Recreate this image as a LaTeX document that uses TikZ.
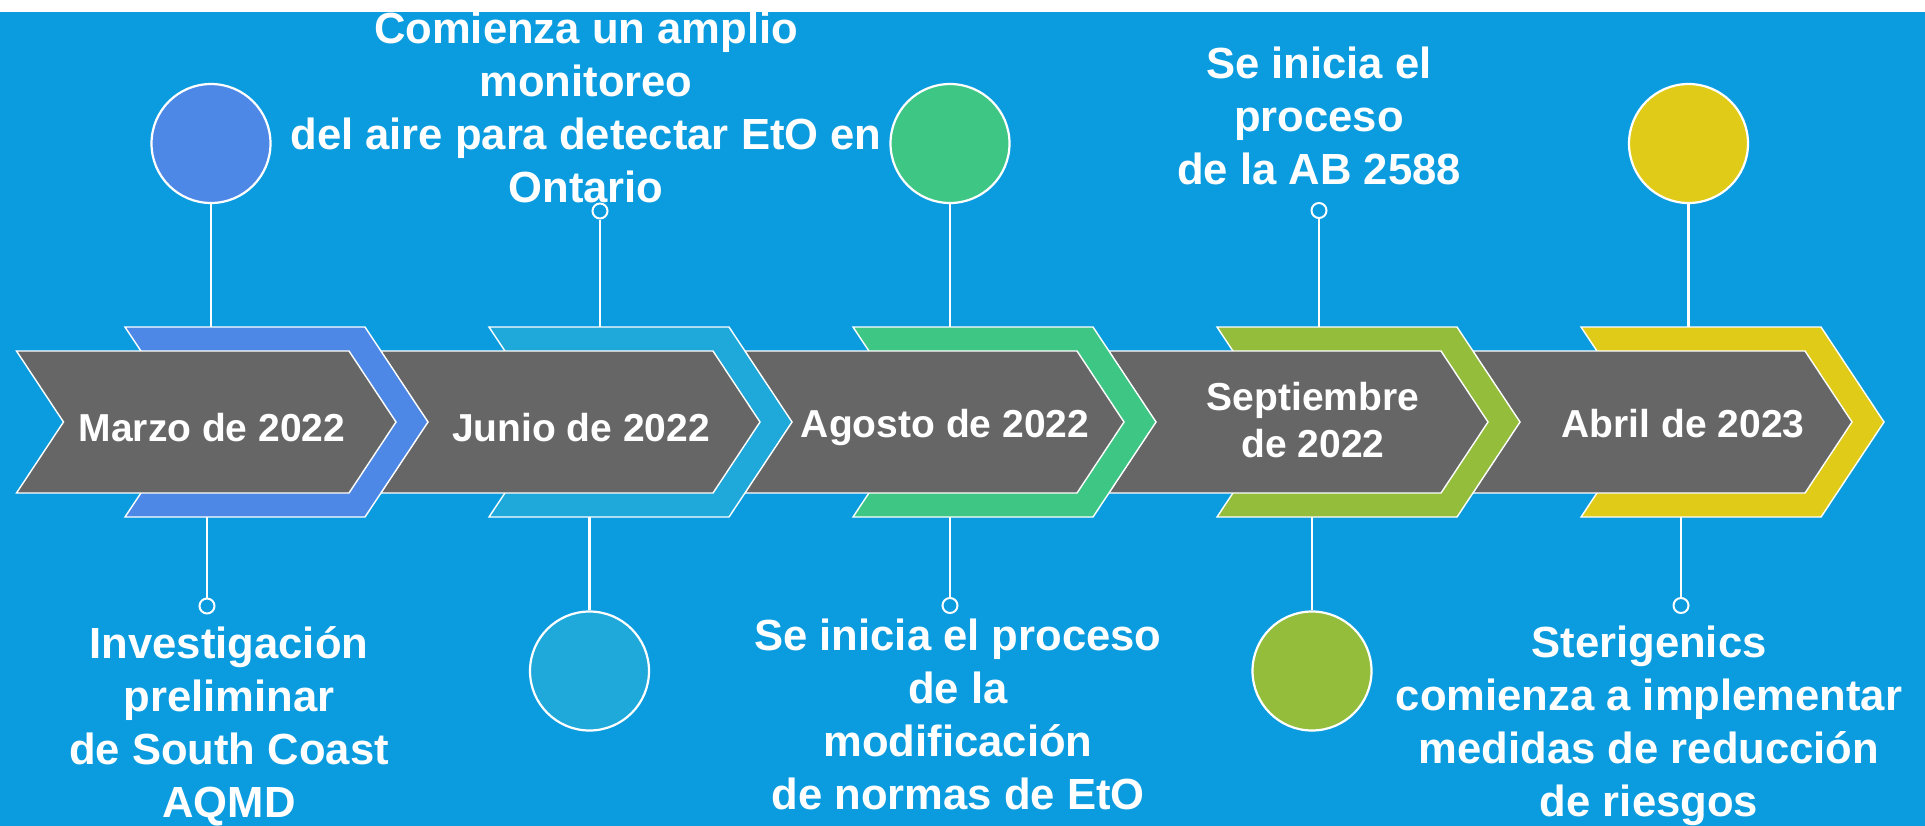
\documentclass[tikz,border=0pt]{standalone}
\usepackage{fontspec}
\setmainfont{Liberation Sans}
\usetikzlibrary{positioning}
\definecolor{TimeBg}{HTML}{0B9CDF}
\definecolor{TimeGray}{HTML}{666666}
\definecolor{TimeBlue}{HTML}{4E88E6}
\definecolor{TimeCyan}{HTML}{1FA9DA}
\definecolor{TimeGreen}{HTML}{3EC685}
\definecolor{TimeOlive}{HTML}{93BD3A}
\definecolor{TimeGold}{HTML}{E0CB18}
\tikzset{
  band/.style={draw=white,line width=0.7pt,line join=miter},
  bigdot/.style={circle,draw=white,line width=1.1pt,minimum size=59.5pt,inner sep=0pt},
  smalldot/.style={circle,draw=white,line width=1pt,minimum size=7.5pt,inner sep=0pt},
  stem/.style={draw=white,line width=1.35pt},
  datelabel/.style={anchor=base,text=white,align=center,inner sep=0pt,
    font=\fontsize{19.5}{23.4}\selectfont\bfseries},
  note/.style={anchor=base,text=white,align=center,inner sep=0pt,
    font=\fontsize{21.8}{26.35}\selectfont\bfseries}
}

\begin{document}
\begin{tikzpicture}[x=0.5pt,y=-0.5pt]
  \useasboundingbox (0,0) rectangle (1925,825);
  \fill[TimeBg] (-5,12) rectangle (1930,830);

  % chevrons, right to left so each gray piece tucks under the band before it
  \foreach \k/\col in {4/TimeGold,3/TimeOlive,2/TimeGreen,1/TimeCyan,0/TimeBlue}{
    \filldraw[band,fill=\col] ({125+364*\k},327) -- ++(240,0) -- ++(63,95)
      -- ++(-63,95) -- ++(-240,0) -- ++(63,-95) -- cycle;
    \filldraw[band,fill=TimeGray] ({16.5+364*\k},351) -- ++(332.5,0) -- ++(47,71)
      -- ++(-47,71) -- ++(-332.5,0) -- ++(47,-71) -- cycle;
  }

  % where the stems meet the coloured bands
  \foreach \name/\xn/\xs in {mar/211/207,jun/600/589.5,ago/950/950,sep/1319/1312,abr/1688.5/1681}{
    \coordinate (\name N) at (\xn,327);
    \coordinate (\name S) at (\xs,517);
  }

  % base anchor of a multi-line node sits on its last line
  \node[datelabel] (marLabel) at (212,441) {Marzo de 2022};
  \node[datelabel] (junLabel) at (581,441) {Junio de 2022};
  \node[datelabel] (agoLabel) at (945,437) {Agosto de 2022};
  \node[datelabel] (sepLabel) at (1313,457) {Septiembre\\de 2022};
  \node[datelabel] (abrLabel) at (1683,437) {Abril de 2023};

  % top row
  \node[bigdot,fill=TimeBlue] (marDot) at (211,143.5) {};
  \node[smalldot] (junDot) at (600,211) {};
  \node[bigdot,fill=TimeGreen] (agoDot) at (950,143.5) {};
  \node[smalldot] (sepDot) at (1319,210.5) {};
  \node[bigdot,fill=TimeGold] (abrDot) at (1688.5,143.5) {};

  % bottom row
  \node[smalldot] (marFoot) at (207,606) {};
  \node[bigdot,fill=TimeCyan] (junFoot) at (589.5,671) {};
  \node[smalldot] (agoFoot) at (950,605.5) {};
  \node[bigdot,fill=TimeOlive] (sepFoot) at (1312,671) {};
  \node[smalldot] (abrFoot) at (1681,605.5) {};

  \foreach \name in {mar,jun,ago,sep,abr}{
    \draw[stem] (\name Dot) -- (\name N);
    \draw[stem] (\name S) -- (\name Foot);
  }

  \node[note] (junNote) at (586,202)
    {Comienza un amplio\\monitoreo\\del aire para detectar EtO en\\Ontario};
  \node[note] (sepNote) at (1319,184) {Se inicia el\\proceso\\de la AB 2588};
  \node[note] (marNote) at (229,817)
    {Investigación\\preliminar\\de South Coast\\AQMD};
  \node[note] (agoNote) at (958,809)
    {Se inicia el proceso\\de la\\modificación\\de normas de EtO};
  \node[note] (abrNote) at (1649,816)
    {Sterigenics\\comienza a implementar\\medidas de reducción\\de riesgos};

  \fill[white] (-5,-5) rectangle (1930,12);
\end{tikzpicture}
\end{document}
